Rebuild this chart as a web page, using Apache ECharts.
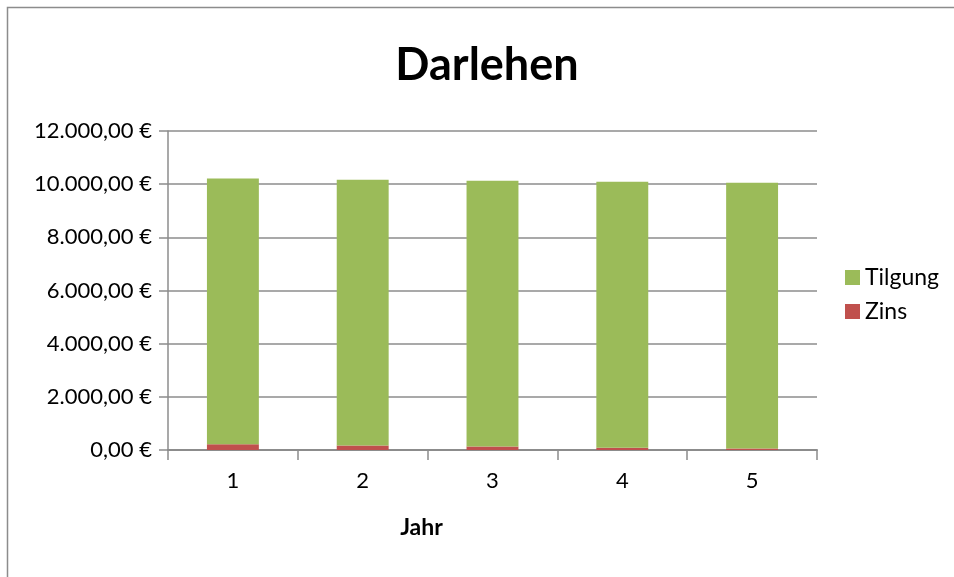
<!DOCTYPE html>
<html><head><meta charset="utf-8">
<script src="https://cdn.jsdelivr.net/npm/echarts@6/dist/echarts.min.js"></script>
<style>html,body{margin:0;padding:0;background:#fff}#c{width:954px;height:577px}</style>
</head><body><div id="c"></div>
<script>
const categories = ['1','2','3','4','5'];
const zins = [212, 170, 128, 88, 52];
const tilgung = [10000, 10000, 10000, 10000, 10000];
const yTicks = [0, 2000, 4000, 6000, 8000, 10000, 12000];

function fmt(v){
  const parts = v.toFixed(2).split('.');
  const intPart = parts[0].replace(/\B(?=(\d{3})+(?!\d))/g, '.');
  return intPart + ',' + parts[1] + ' €';
}
const FONT = 'Lato';
const chart = echarts.init(document.getElementById('c'), null, {renderer:'canvas'});
chart.setOption({
  backgroundColor:'#fff',
  animation:false,
  graphic:[{type:'rect', shape:{x:7.5,y:7.5,width:960,height:600}, style:{fill:'none', stroke:'#8c8c8c', lineWidth:1.5}, silent:true, z:-10}],
  title:{text:'Darlehen', left:482, top:38, textAlign:'center',
    textStyle:{fontFamily:FONT, fontSize:45, fontWeight:'bold', color:'#000'}},
  legend:{orient:'vertical', left:840, top:261, itemWidth:15, itemHeight:15, itemGap:11,
    icon:'rect', data:['Tilgung','Zins'],
    textStyle:{fontFamily:FONT, fontSize:23, color:'#000', padding:[0,0,0,0]}},
  grid:{left:168, right:137, top:131, bottom:127, containLabel:false},
  xAxis:{type:'category', data:categories, name:'Jahr', nameLocation:'middle', nameGap:66,
    nameTextStyle:{fontFamily:FONT, fontSize:23, fontWeight:'bold', color:'#000', padding:[0,142,0,0]},
    axisLine:{lineStyle:{color:'#8c8c8c', width:2}},
    axisTick:{show:true, length:10, lineStyle:{color:'#8c8c8c', width:1.5}},
    axisLabel:{fontFamily:FONT, fontSize:22, color:'#000', margin:20}},
  yAxis:{type:'value', min:0, max:12000, interval:2000,
    axisLine:{show:true, lineStyle:{color:'#8c8c8c', width:1.5}},
    axisTick:{show:true, length:9, lineStyle:{color:'#8c8c8c', width:1.5}},
    splitLine:{lineStyle:{color:'#8c8c8c', width:1.5}},
    axisLabel:{fontFamily:FONT, fontSize:22, color:'#000', margin:16, formatter:fmt}},
  series:[
    {name:'Zins', type:'bar', stack:'a', data:zins, barWidth:'40%', itemStyle:{color:'#C0504D'}},
    {name:'Tilgung', type:'bar', stack:'a', data:tilgung, barWidth:'40%', itemStyle:{color:'#9BBB59'}}
  ]
});
</script></body></html>
